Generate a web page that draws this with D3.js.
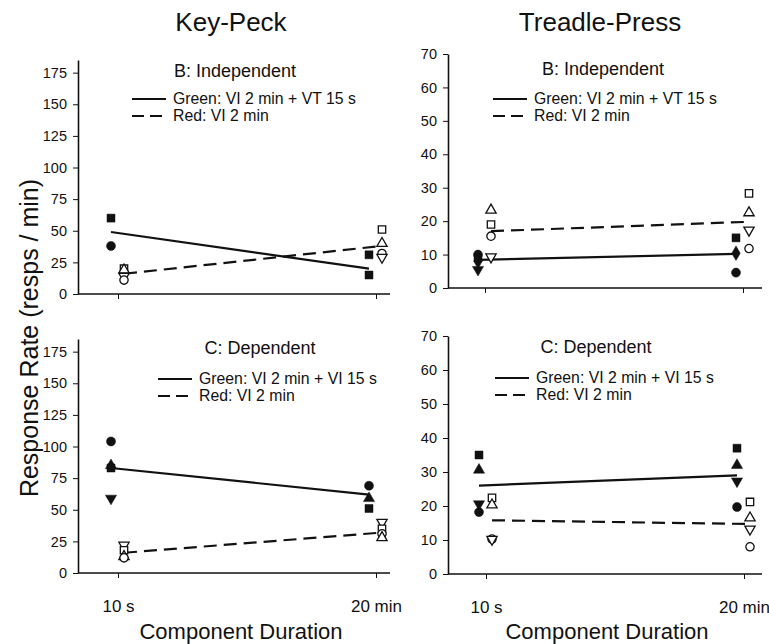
<!DOCTYPE html>
<html>
<head>
<meta charset="utf-8">
<script src="https://cdn.jsdelivr.net/npm/d3@7"></script>
<style>
    body { margin: 0; background: #ffffff; }
    svg text { font-family: "Liberation Sans", Arial, sans-serif; fill: #111; }
</style>
</head>
<body>
<div id="chart"></div>
<script>

/* Data -------------------------------------------------------------------- */

const durations = ["10 s", "20 min"];
const keyPeckTicks = [0, 25, 50, 75, 100, 125, 150, 175];
const treadleTicks = [0, 10, 20, 30, 40, 50, 60, 70];

// Key-Peck, B: Independent
const kpIndGreen = [
    ["10 s", "square", 60], ["10 s", "circle", 38],
    ["20 min", "square", 31], ["20 min", "square", 15]];
const kpIndRed = [
    ["10 s", "square", 20], ["10 s", "triangle", 19],
    ["10 s", "triangleDown", 14], ["10 s", "circle", 11],
    ["20 min", "square", 51], ["20 min", "triangle", 40],
    ["20 min", "circle", 32], ["20 min", "triangleDown", 29]];
const kpIndGreenMean = [49, 20];
const kpIndRedMean = [16, 38];

// Treadle-Press, B: Independent
const tpIndGreen = [
    ["10 s", "circle", 10], ["10 s", "square", 9],
    ["10 s", "diamond", 8], ["10 s", "triangleDown", 5.5],
    ["20 min", "square", 15], ["20 min", "diamond", 10.4],
    ["20 min", "circle", 4.6]];
const tpIndRed = [
    ["10 s", "triangle", 23.3], ["10 s", "square", 19],
    ["10 s", "circle", 15.5], ["10 s", "triangleDown", 9.3],
    ["20 min", "square", 28.3], ["20 min", "triangle", 22.5],
    ["20 min", "triangleDown", 17.3], ["20 min", "circle", 11.8]];
const tpIndGreenMean = [8.4, 10.2];
const tpIndRedMean = [17, 19.8];

// Key-Peck, C: Dependent
const kpDepGreen = [
    ["10 s", "circle", 104], ["10 s", "triangle", 85],
    ["10 s", "square", 83], ["10 s", "triangleDown", 59],
    ["20 min", "circle", 69], ["20 min", "triangle", 59],
    ["20 min", "square", 51]];
const kpDepRed = [
    ["10 s", "triangleDown", 22], ["10 s", "square", 18],
    ["10 s", "triangle", 13], ["10 s", "circle", 12],
    ["20 min", "triangleDown", 40], ["20 min", "square", 35],
    ["20 min", "circle", 31], ["20 min", "triangle", 28]];
const kpDepGreenMean = [83, 62];
const kpDepRedMean = [16, 32];

// Treadle-Press, C: Dependent
const tpDepGreen = [
    ["10 s", "square", 35], ["10 s", "triangle", 30.6],
    ["10 s", "triangleDown", 20.6], ["10 s", "circle", 18.2],
    ["20 min", "square", 37], ["20 min", "triangle", 32],
    ["20 min", "triangleDown", 27.3], ["20 min", "circle", 19.7]];
const tpDepRed = [
    ["10 s", "square", 22.4], ["10 s", "triangle", 20.3],
    ["10 s", "circle", 10.3], ["10 s", "triangleDown", 10.2],
    ["20 min", "square", 21.2], ["20 min", "triangle", 16.5],
    ["20 min", "triangleDown", 13.2], ["20 min", "circle", 8]];
const tpDepGreenMean = [26, 29];
const tpDepRedMean = [15.8, 14.7];

/* Layout ------------------------------------------------------------------ */

const panels = [
    {title: "B: Independent", greenLabel: "Green: VI 2 min + VT 15 s",
     green: kpIndGreen, red: kpIndRed, greenMean: kpIndGreenMean, redMean: kpIndRedMean,
     ticks: keyPeckTicks, yMax: 185, yRange: [294, 60], axisX: 78, axisEnd: 390,
     cats: [118, 376], titleX: 235, titleY: 77, legX: 132, legY: 99, xLabels: false},
    {title: "B: Independent", greenLabel: "Green: VI 2 min + VT 15 s",
     green: tpIndGreen, red: tpIndRed, greenMean: tpIndGreenMean, redMean: tpIndRedMean,
     ticks: treadleTicks, yMax: 70, yRange: [288, 54], axisX: 448, axisEnd: 762,
     cats: [485, 743], titleX: 603, titleY: 75, legX: 493, legY: 99, xLabels: false},
    {title: "C: Dependent", greenLabel: "Green: VI 2 min + VI 15 s",
     green: kpDepGreen, red: kpDepRed, greenMean: kpDepGreenMean, redMean: kpDepRedMean,
     ticks: keyPeckTicks, yMax: 185, yRange: [573, 339], axisX: 78, axisEnd: 390,
     cats: [118, 376], titleX: 260, titleY: 354, legX: 158, legY: 379, xLabels: true},
    {title: "C: Dependent", greenLabel: "Green: VI 2 min + VI 15 s",
     green: tpDepGreen, red: tpDepRed, greenMean: tpDepGreenMean, redMean: tpDepRedMean,
     ticks: treadleTicks, yMax: 70, yRange: [574, 336], axisX: 448, axisEnd: 762,
     cats: [486, 744], titleX: 596, titleY: 353, legX: 495, legY: 378, xLabels: true}
];

const symbolTypes = {
    square: {type: d3.symbolSquare, size: 64, rot: 0},
    circle: {type: d3.symbolCircle, size: 64, rot: 0},
    triangle: {type: d3.symbolTriangle, size: 54, rot: 0},
    triangleDown: {type: d3.symbolTriangle, size: 54, rot: 180},
    diamond: {type: d3.symbolDiamond, size: 62, rot: 0}
};

/* Draw graphic ------------------------------------------------------------ */

const svg = d3.select("#chart")
    .append("svg")
    .attr("width", 769)
    .attr("height", 644);

svg.append("rect")
    .attr("width", 769)
    .attr("height", 644)
    .attr("fill", "#ffffff");

// Column headers
svg.append("text")
    .attr("x", 231).attr("y", 31)
    .attr("text-anchor", "middle")
    .style("font-size", "26px")
    .text("Key-Peck");

svg.append("text")
    .attr("x", 600).attr("y", 31)
    .attr("text-anchor", "middle")
    .style("font-size", "26px")
    .text("Treadle-Press");

// Y-axis title
svg.append("text")
    .attr("transform", "translate(38,338) rotate(-90)")
    .attr("text-anchor", "middle")
    .style("font-size", "25px")
    .text("Response Rate (resps / min)");

// X-axis titles
[241, 607].forEach(cx => {
    svg.append("text")
        .attr("x", cx).attr("y", 639)
        .attr("text-anchor", "middle")
        .style("font-size", "22px")
        .text("Component Duration");
});

function drawPanel(p) {

    const y = d3.scaleLinear()
        .domain([0, p.yMax])
        .range(p.yRange);

    const x = d3.scalePoint()
        .domain(durations)
        .range(p.cats);

    const g = svg.append("g");

    // Y axis
    const yAxis = g.append("g")
        .attr("transform", `translate(${p.axisX},0)`)
        .call(d3.axisLeft(y)
            .tickValues(p.ticks)
            .tickSize(5)
            .tickSizeOuter(0)
            .tickPadding(6));

    yAxis.select(".domain")
        .attr("stroke", "#111")
        .attr("stroke-width", 1.6);
    yAxis.selectAll(".tick line").attr("stroke", "#111");
    yAxis.selectAll(".tick text")
        .style("font-size", "14.5px")
        .style("font-family", "'Liberation Sans', Arial, sans-serif")
        .attr("fill", "#111");

    // X axis baseline
    g.append("line")
        .attr("x1", p.axisX).attr("x2", p.axisEnd)
        .attr("y1", y(0)).attr("y2", y(0))
        .attr("stroke", "#111")
        .attr("stroke-width", 1.6);

    const xAxis = g.append("g")
        .attr("transform", `translate(0,${y(0)})`)
        .call(d3.axisBottom(x)
            .tickSize(5)
            .tickPadding(22)
            .tickFormat(p.xLabels ? d => d : ""));

    xAxis.select(".domain").remove();
    xAxis.selectAll(".tick line").attr("stroke", "#111");
    xAxis.selectAll(".tick text")
        .style("font-size", "17px")
        .style("font-family", "'Liberation Sans', Arial, sans-serif")
        .attr("fill", "#111");

    // Panel title
    g.append("text")
        .attr("x", p.titleX).attr("y", p.titleY)
        .attr("text-anchor", "middle")
        .style("font-size", "18px")
        .text(p.title);

    // Legend
    g.append("line")
        .attr("x1", p.legX).attr("x2", p.legX + 34)
        .attr("y1", p.legY).attr("y2", p.legY)
        .attr("stroke", "#111").attr("stroke-width", 1.8);
    g.append("text")
        .attr("x", p.legX + 41).attr("y", p.legY + 5)
        .style("font-size", "15.8px")
        .text(p.greenLabel);
    g.append("line")
        .attr("x1", p.legX).attr("x2", p.legX + 34)
        .attr("y1", p.legY + 17).attr("y2", p.legY + 17)
        .attr("stroke", "#111").attr("stroke-width", 1.8)
        .attr("stroke-dasharray", "12,6");
    g.append("text")
        .attr("x", p.legX + 41).attr("y", p.legY + 22)
        .style("font-size", "15.8px")
        .text("Red: VI 2 min");

    const greenOff = -7;
    const redOff = 6;

    // Mean lines
    const line = d3.line()
        .x(d => d[0])
        .y(d => y(d[1]));

    g.append("path")
        .datum(durations.map((d, i) => [x(d) + greenOff, p.greenMean[i]]))
        .attr("d", line)
        .attr("fill", "none")
        .attr("stroke", "#111")
        .attr("stroke-width", 2.2);

    g.append("path")
        .datum(durations.map((d, i) => [x(d) + redOff, p.redMean[i]]))
        .attr("d", line)
        .attr("fill", "none")
        .attr("stroke", "#111")
        .attr("stroke-width", 2.2)
        .attr("stroke-dasharray", "13,7");

    // Individual subjects
    function drawMarkers(points, off, filled) {
        g.selectAll(null)
            .data(points)
            .enter()
            .append("path")
            .attr("d", d => d3.symbol()
                .type(symbolTypes[d[1]].type)
                .size(filled ? symbolTypes[d[1]].size : symbolTypes[d[1]].size * 0.85)())
            .attr("transform", d =>
                `translate(${x(d[0]) + off},${y(d[2])}) rotate(${symbolTypes[d[1]].rot})`)
            .attr("fill", filled ? "#111" : "#ffffff")
            .attr("stroke", "#111")
            .attr("stroke-width", filled ? 0.5 : 1.3);
    }

    drawMarkers(p.green, greenOff, true);
    drawMarkers(p.red, redOff, false);
}

panels.forEach(drawPanel);

</script>
</body>
</html>
